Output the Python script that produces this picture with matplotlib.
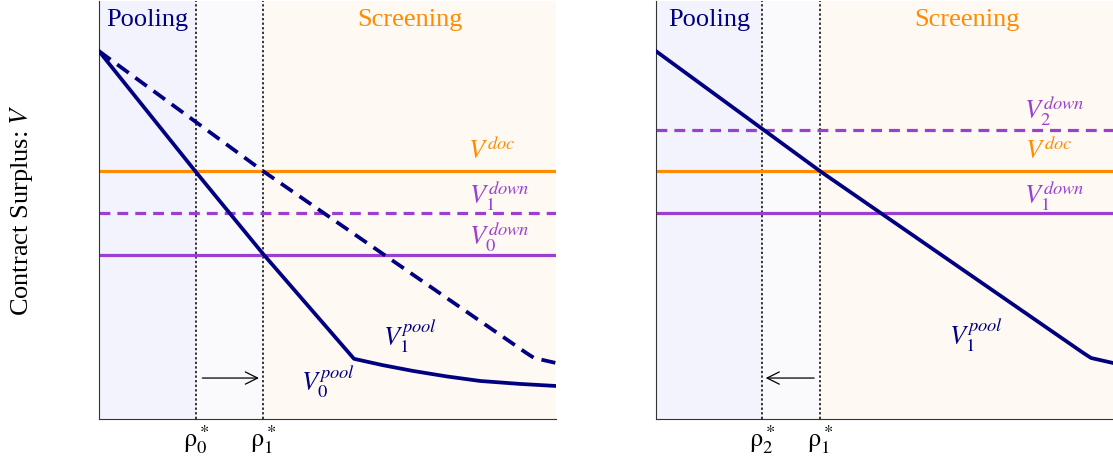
import matplotlib
matplotlib.use("Agg")
import matplotlib.pyplot as plt

# values in axis units (0..1)
rho_left = [0.212, 0.359]
rho_right = [0.232, 0.359]
rho_left_labels = [r"$\mathrm{\rho}_0^*$", r"$\mathrm{\rho}_1^*$"]
rho_right_labels = [r"$\mathrm{\rho}_2^*$", r"$\mathrm{\rho}_1^*$"]

v_doc = 0.593
v0_down = 0.392
v1_down = 0.493
v2_down = 0.691

v0_pool_x = [0, 0.212, 0.359, 0.558, 0.62, 0.687, 0.76, 0.834, 0.92, 1.0]
v0_pool_y = [0.88, 0.591, 0.395, 0.144, 0.129, 0.115, 0.102, 0.091, 0.084, 0.079]
v1_pool_x = [0, 0.359, 0.935, 0.952, 1.0]
v1_pool_y = [0.88, 0.593, 0.158, 0.146, 0.134]

navy = "#000080"
orange = "#ff8c00"
purple = "#9b3fd0"
c_pool = "#f3f3fd"
c_mid = "#fafafc"
c_screen = "#fef9f2"

plt.rcParams["font.family"] = ["Liberation Serif", "DejaVu Serif"]
plt.rcParams["mathtext.fontset"] = "stix"
fs = 19

fig = plt.figure(figsize=(11.13, 4.6), dpi=100)
ax1 = fig.add_axes([99 / 1113, 40 / 460, 457 / 1113, 418 / 460])
ax2 = fig.add_axes([656 / 1113, 40 / 460, 457 / 1113, 418 / 460])


def setup(ax, rhos, labels):
    ax.set_xlim(0, 1)
    ax.set_ylim(0, 1)
    ax.axvspan(0, rhos[0], color=c_pool, lw=0, zorder=0)
    ax.axvspan(rhos[0], rhos[1], color=c_mid, lw=0, zorder=0)
    ax.axvspan(rhos[1], 1, color=c_screen, lw=0, zorder=0)
    for r in rhos:
        ax.axvline(r, color="black", ls=(0, (1.5, 1.5)), lw=1.1, zorder=1)
    ax.spines["top"].set_visible(False)
    ax.spines["right"].set_visible(False)
    ax.spines["left"].set_color("#333333")
    ax.spines["bottom"].set_color("#333333")
    ax.set_yticks([])
    ax.set_xticks(rhos)
    ax.set_xticklabels(labels, fontsize=fs)
    ax.tick_params(axis="x", length=0, pad=2)
    ax.text(rhos[0] / 2, 0.957, "Pooling", color=navy, fontsize=fs,
            ha="center", va="center")
    ax.text((rhos[1] + 1) / 2, 0.957, "Screening", color=orange, fontsize=fs,
            ha="center", va="center")


setup(ax1, rho_left, rho_left_labels)
setup(ax2, rho_right, rho_right_labels)

# left panel
ax1.axhline(v_doc, color=orange, lw=2.3, zorder=2)
ax1.axhline(v1_down, color=purple, lw=2.3, ls=(0, (3.4, 2.2)), zorder=2)
ax1.axhline(v0_down, color=purple, lw=2.3, zorder=2)
ax1.plot(v1_pool_x, v1_pool_y, color=navy, lw=2.7, ls=(0, (3.8, 2.2)), zorder=3)
ax1.plot(v0_pool_x, v0_pool_y, color=navy, lw=2.7, zorder=3)

ax1.text(0.86, 0.646, r"$V^{doc}$", color=orange, fontsize=fs, ha="center", va="center")
ax1.text(0.877, 0.538, r"$V_1^{down}$", color=purple, fontsize=fs, ha="center", va="center")
ax1.text(0.877, 0.438, r"$V_0^{down}$", color=purple, fontsize=fs, ha="center", va="center")
ax1.text(0.68, 0.20, r"$V_1^{pool}$", color=navy, fontsize=fs, ha="center", va="center")
ax1.text(0.50, 0.091, r"$V_0^{pool}$", color=navy, fontsize=fs, ha="center", va="center")
ax1.annotate("", xy=(0.35, 0.098), xytext=(0.226, 0.098),
             arrowprops=dict(arrowstyle="->", color="black", lw=0.9,
                             mutation_scale=22, shrinkA=0, shrinkB=0))

# right panel
ax2.axhline(v2_down, color=purple, lw=2.3, ls=(0, (3.4, 2.2)), zorder=2)
ax2.axhline(v_doc, color=orange, lw=2.3, zorder=2)
ax2.axhline(v1_down, color=purple, lw=2.3, zorder=2)
ax2.plot(v1_pool_x, v1_pool_y, color=navy, lw=2.7, zorder=3)

ax2.text(0.871, 0.739, r"$V_2^{down}$", color=purple, fontsize=fs, ha="center", va="center")
ax2.text(0.86, 0.646, r"$V^{doc}$", color=orange, fontsize=fs, ha="center", va="center")
ax2.text(0.871, 0.538, r"$V_1^{down}$", color=purple, fontsize=fs, ha="center", va="center")
ax2.text(0.70, 0.203, r"$V_1^{pool}$", color=navy, fontsize=fs, ha="center", va="center")
ax2.annotate("", xy=(0.24, 0.098), xytext=(0.346, 0.098),
             arrowprops=dict(arrowstyle="->", color="black", lw=0.9,
                             mutation_scale=22, shrinkA=0, shrinkB=0))

fig.text(22 / 1113, 0.543, r"Contract Surplus: $V$", rotation=90, fontsize=fs,
         ha="center", va="center")

fig.savefig("out.png", dpi=100)
